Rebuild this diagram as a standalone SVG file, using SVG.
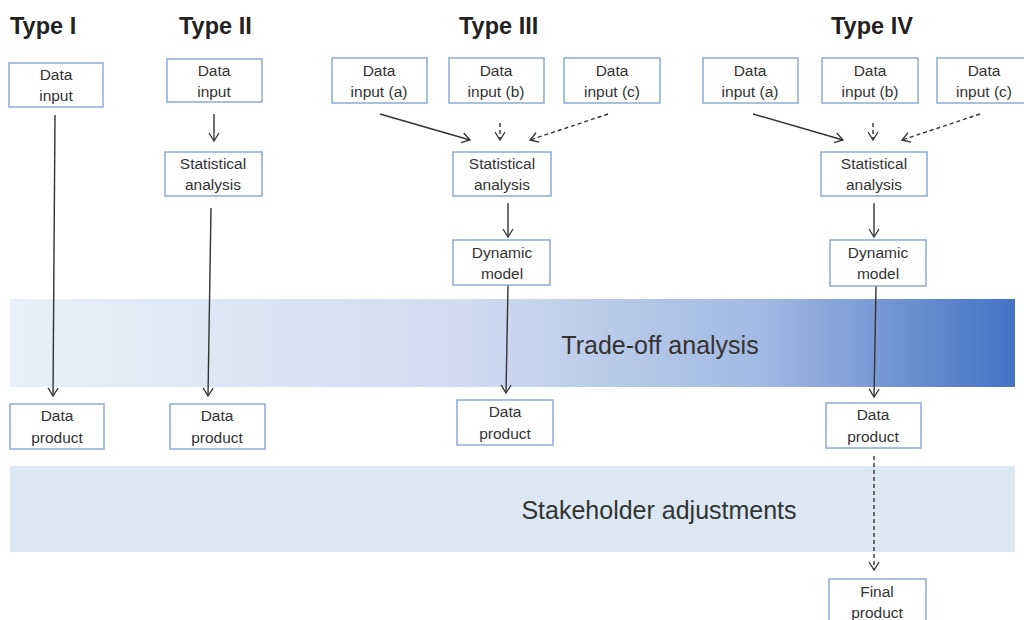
<svg xmlns="http://www.w3.org/2000/svg" width="1024" height="620" viewBox="0 0 1024 620">
<defs>
<linearGradient id="g1" x1="0" y1="0" x2="1" y2="0">
<stop offset="0" stop-color="#eaf0f9"/>
<stop offset="0.45" stop-color="#d0dbf0"/>
<stop offset="0.75" stop-color="#a1b9e3"/>
<stop offset="1" stop-color="#4472c4"/>
</linearGradient>
<marker id="ah" markerWidth="12" markerHeight="12" refX="10" refY="6" orient="auto" markerUnits="userSpaceOnUse">
<path d="M2,1 L10,6 L2,11" fill="none" stroke="#333" stroke-width="1.3"/>
</marker>
</defs>
<style>
.box{fill:#fff;stroke:#8ea9d8;stroke-width:1.5}
.t{font-family:"Liberation Sans",Arial,sans-serif;font-size:15.5px;fill:#333;text-anchor:middle}
.title{font-family:"Liberation Sans",Arial,sans-serif;font-size:23.5px;font-weight:bold;fill:#222}
.band{font-family:"Liberation Sans",Arial,sans-serif;font-size:25px;fill:#333;text-anchor:middle}
.ln{stroke:#333;stroke-width:1.4;fill:none;marker-end:url(#ah)}
.dl{stroke:#333;stroke-width:1.4;fill:none;stroke-dasharray:4,3;marker-end:url(#ah)}
</style>
<rect x="0" y="0" width="1024" height="620" fill="#fff"/>
<g id="bands">
<rect x="10" y="299" width="1005" height="88" fill="url(#g1)"/>
<text class="band" x="660" y="354">Trade-off analysis</text>
<rect x="10" y="466" width="1005" height="86" fill="#dde7f3"/>
<text class="band" x="659" y="519">Stakeholder adjustments</text>
</g>
<g id="titles">
<text class="title" x="10" y="34">Type I</text>
<text class="title" x="179" y="34">Type II</text>
<text class="title" x="459" y="34">Type III</text>
<text class="title" x="831" y="34">Type IV</text>
</g>
<g id="connectors">
<line class="ln" x1="55" y1="115" x2="53" y2="396"/>
<line class="ln" x1="214" y1="114" x2="214" y2="141"/>
<line class="ln" x1="211" y1="208" x2="208" y2="396"/>
<line class="ln" x1="380" y1="114" x2="470" y2="140"/>
<line class="dl" x1="500" y1="123" x2="500" y2="140"/>
<line class="dl" x1="608" y1="114" x2="530" y2="140"/>
<line class="ln" x1="508" y1="203" x2="508" y2="237"/>
<line class="ln" x1="508" y1="285" x2="506" y2="393"/>
<line class="ln" x1="753" y1="114" x2="843" y2="140"/>
<line class="dl" x1="873" y1="123" x2="873" y2="140"/>
<line class="dl" x1="980" y1="114" x2="902" y2="140"/>
<line class="ln" x1="874" y1="203" x2="874" y2="237"/>
<line class="ln" x1="876" y1="286" x2="874" y2="397"/>
<line class="dl" x1="874" y1="456" x2="874" y2="570"/>
</g>
<g id="n1-input"><rect class="box" x="9" y="63" width="94" height="44"/><text class="t" x="56" y="80">Data</text><text class="t" x="56" y="101">input</text></g>
<g id="n1-product"><rect class="box" x="10" y="404" width="94" height="45"/><text class="t" x="57" y="421">Data</text><text class="t" x="57" y="443">product</text></g>
<g id="n2-input"><rect class="box" x="167" y="59" width="95" height="43"/><text class="t" x="214" y="76">Data</text><text class="t" x="214" y="97">input</text></g>
<g id="n2-stat"><rect class="box" x="165" y="152" width="97" height="44"/><text class="t" x="213" y="169">Statistical</text><text class="t" x="213" y="190">analysis</text></g>
<g id="n2-product"><rect class="box" x="170" y="404" width="95" height="45"/><text class="t" x="217" y="421">Data</text><text class="t" x="217" y="443">product</text></g>
<g id="n3-a"><rect class="box" x="332" y="58" width="95" height="45"/><text class="t" x="379" y="76">Data</text><text class="t" x="379" y="97">input (a)</text></g>
<g id="n3-b"><rect class="box" x="449" y="58" width="95" height="45"/><text class="t" x="496" y="76">Data</text><text class="t" x="496" y="97">input (b)</text></g>
<g id="n3-c"><rect class="box" x="564" y="58" width="96" height="45"/><text class="t" x="612" y="76">Data</text><text class="t" x="612" y="97">input (c)</text></g>
<g id="n3-stat"><rect class="box" x="453" y="152" width="98" height="44"/><text class="t" x="502" y="169">Statistical</text><text class="t" x="502" y="190">analysis</text></g>
<g id="n3-dyn"><rect class="box" x="453" y="240" width="97" height="45"/><text class="t" x="502" y="258">Dynamic</text><text class="t" x="502" y="279">model</text></g>
<g id="n3-product"><rect class="box" x="457" y="400" width="96" height="45"/><text class="t" x="505" y="417">Data</text><text class="t" x="505" y="439">product</text></g>
<g id="n4-a"><rect class="box" x="703" y="58" width="95" height="45"/><text class="t" x="750" y="76">Data</text><text class="t" x="750" y="97">input (a)</text></g>
<g id="n4-b"><rect class="box" x="822" y="58" width="96" height="45"/><text class="t" x="870" y="76">Data</text><text class="t" x="870" y="97">input (b)</text></g>
<g id="n4-c"><rect class="box" x="937" y="58" width="95" height="45"/><text class="t" x="984" y="76">Data</text><text class="t" x="984" y="97">input (c)</text></g>
<g id="n4-stat"><rect class="box" x="821" y="152" width="106" height="44"/><text class="t" x="874" y="169">Statistical</text><text class="t" x="874" y="190">analysis</text></g>
<g id="n4-dyn"><rect class="box" x="830" y="240" width="96" height="46"/><text class="t" x="878" y="258">Dynamic</text><text class="t" x="878" y="279">model</text></g>
<g id="n4-product"><rect class="box" x="826" y="403" width="95" height="45"/><text class="t" x="873" y="420">Data</text><text class="t" x="873" y="442">product</text></g>
<g id="n4-final"><rect class="box" x="829" y="579" width="97" height="50"/><text class="t" x="877" y="597">Final</text><text class="t" x="877" y="618">product</text></g>
</svg>
